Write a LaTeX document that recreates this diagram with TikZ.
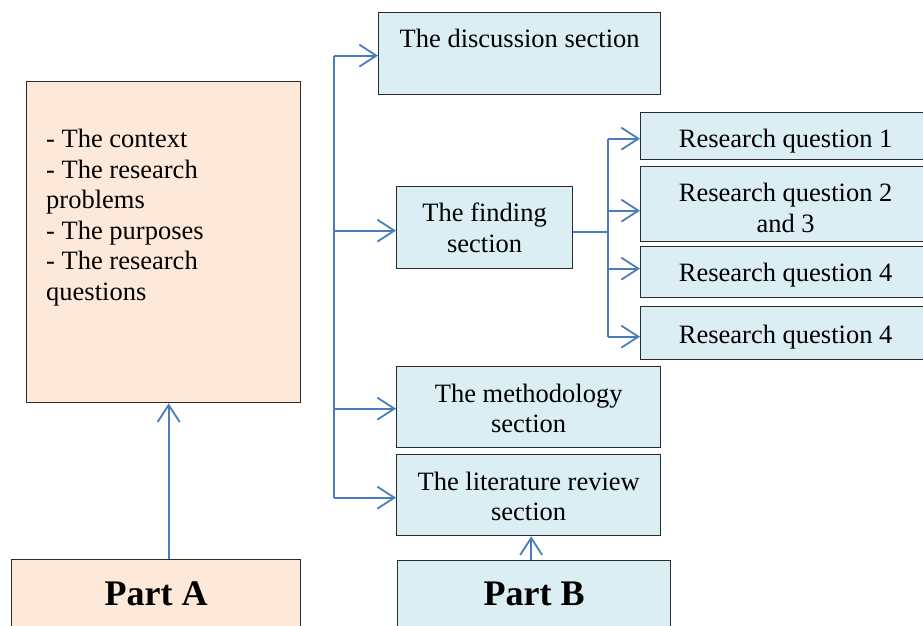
\documentclass[tikz,border=0pt]{standalone}
\usepackage{fontspec}
\setmainfont{Liberation Serif}
\usetikzlibrary{arrows.meta,calc}
\definecolor{peach}{HTML}{FDE9D9}
\definecolor{paleblue}{HTML}{DAEEF3}
\definecolor{linkblue}{HTML}{4A7EBB}
\definecolor{edge}{HTML}{2B2B2B}
% invisible strut that lowers the first line of a box label
\newcommand\lowerby[1]{\rule{0pt}{#1}}

\begin{document}
\begin{tikzpicture}[x=1pt,y=-1pt,
  box/.style={draw=edge,line width=1.3pt,inner sep=0pt,anchor=north west,
    align=center,font=\fontsize{26.5}{30.5}\selectfont},
  partbox/.style={box,font=\bfseries\fontsize{36}{40}\selectfont},
  txt/.style={inner sep=0pt,font=\fontsize{26.5}{30.5}\selectfont},
  link/.style={draw=linkblue,line width=1.8pt},
  conn/.style={link,-{Straight Barb[length=17pt,width=22pt]}}
]
\useasboundingbox (0,0) rectangle (923,626);

% Part A column
\node[box,fill=peach,minimum width=274pt,minimum height=321pt] (ctx) at (26,81) {};
\node[txt,anchor=north west,align=left] (ctxtext) at (46,129)
  {- The context\\- The research\\problems\\- The purposes\\- The research\\questions};
\node[partbox,fill=peach,minimum width=289pt,minimum height=68pt] (partA) at (11,559) {Part A};

% Part B column
\node[box,fill=paleblue,minimum width=282pt,minimum height=82pt] (disc) at (378,12) {};
\node[txt,anchor=base] (disctext) at ($(disc.north)+(0,36)$) {The discussion section};
\node[box,fill=paleblue,minimum width=176pt,minimum height=82pt] (find) at (396,186) {The finding\\section};
\node[box,fill=paleblue,minimum width=264pt,minimum height=81pt] (meth) at (396,366) {\lowerby{21pt}The methodology\\section};
\node[box,fill=paleblue,minimum width=264pt,minimum height=81pt] (lit) at (396,454) {\lowerby{21pt}The literature review\\section};
\node[partbox,fill=paleblue,minimum width=273pt,minimum height=67pt] (partB) at (397,560) {Part B};

% Research questions
\node[box,fill=paleblue,minimum width=290pt,minimum height=47pt] (rq1) at (640,112) {\lowerby{29pt}Research question 1};
\node[box,fill=paleblue,minimum width=290pt,minimum height=75pt] (rq2) at (640,166) {\lowerby{26pt}Research question 2\\and 3};
\node[box,fill=paleblue,minimum width=290pt,minimum height=51pt] (rq3) at (640,246) {\lowerby{24pt}Research question 4};
\node[box,fill=paleblue,minimum width=290pt,minimum height=53pt] (rq4) at (640,306) {\lowerby{26pt}Research question 4};

% Connectors (shifts are in page units: negative moves down)
\draw[conn] ([xshift=5pt]ctx.south |- partA.north) -- ([xshift=5pt]ctx.south);
\draw[conn] ([xshift=-3pt]partB.north) -- ([xshift=-3pt]partB.north |- lit.south);

\coordinate (trunk) at (334,0);
\draw[link] ([yshift=-2pt]trunk |- disc.west) -- ([yshift=-2.5pt]trunk |- lit.west);
\draw[conn] ([yshift=-2pt]trunk |- disc.west) -- ([yshift=-2pt]disc.west);
\draw[conn] ([yshift=-3pt]trunk |- find.west) -- ([yshift=-3pt]find.west);
\draw[conn] ([yshift=-1.5pt]trunk |- meth.west) -- ([yshift=-1.5pt]meth.west);
\draw[conn] ([yshift=-2.5pt]trunk |- lit.west) -- ([yshift=-2.5pt]lit.west);

\coordinate (fork) at (608,0);
\draw[link] ([yshift=-4pt]find.east) -- ([yshift=-4pt]fork |- find.east);
\draw[link] ([yshift=-2.5pt]fork |- rq1.west) -- ([yshift=-3.5pt]fork |- rq4.west);
\draw[conn] ([yshift=-2.5pt]fork |- rq1.west) -- ([yshift=-2.5pt]rq1.west);
\draw[conn] ([yshift=-6.5pt]fork |- rq2.west) -- ([yshift=-6.5pt]rq2.west);
\draw[conn] ([yshift=3.5pt]fork |- rq3.west) -- ([yshift=3.5pt]rq3.west);
\draw[conn] ([yshift=-3.5pt]fork |- rq4.west) -- ([yshift=-3.5pt]rq4.west);
\end{tikzpicture}
\end{document}
